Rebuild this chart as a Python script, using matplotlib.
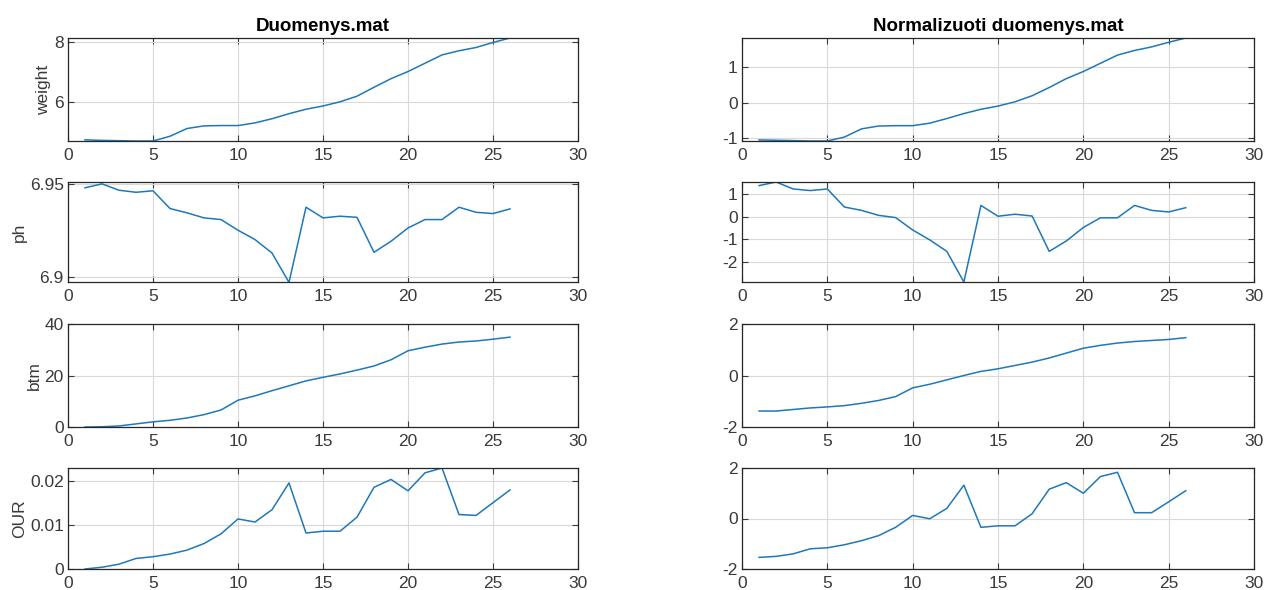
import matplotlib.pyplot as plt
from matplotlib.ticker import FormatStrFormatter

plt.rcParams['font.family'] = ['Liberation Sans', 'DejaVu Sans']
plt.rcParams['axes.unicode_minus'] = False

day = list(range(1, 27))

# Duomenys.mat
weight = [4.72, 4.70, 4.69, 4.68, 4.68, 4.84, 5.10, 5.19, 5.20, 5.20, 5.29, 5.43, 5.60,
          5.75, 5.86, 6.00, 6.19, 6.49, 6.78, 7.02, 7.30, 7.58, 7.72, 7.83, 8.00, 8.15]
ph = [6.9479, 6.9500, 6.9466, 6.9455, 6.9463, 6.9368, 6.9345, 6.9318, 6.9309, 6.9252,
      6.9202, 6.9130, 6.8973, 6.9375, 6.9318, 6.9327, 6.9321, 6.9134, 6.9193, 6.9264,
      6.9309, 6.9309, 6.9375, 6.9348, 6.9341, 6.9366]
btm = [0.0, 0.1, 0.4, 1.2, 2.0, 2.6, 3.5, 4.8, 6.6, 10.4, 12.1, 14.1, 16.0,
       17.9, 19.3, 20.6, 22.1, 23.7, 26.1, 29.6, 31.0, 32.2, 33.0, 33.4, 34.1, 34.9]
our = [0.0000, 0.0004, 0.0011, 0.0024, 0.0028, 0.0034, 0.0043, 0.0058, 0.0080, 0.0114,
       0.0107, 0.0135, 0.0196, 0.0082, 0.0086, 0.0086, 0.0118, 0.0186, 0.0204, 0.0178,
       0.0219, 0.0230, 0.0124, 0.0122, 0.0151, 0.0180]

# Normalizuoti duomenys.mat
weight_n = [-1.05, -1.06, -1.07, -1.08, -1.08, -0.97, -0.74, -0.66, -0.65, -0.65, -0.58,
            -0.45, -0.31, -0.19, -0.10, 0.02, 0.19, 0.42, 0.67, 0.87, 1.10, 1.33, 1.46,
            1.56, 1.69, 1.81]
ph_n = [1.39, 1.55, 1.24, 1.17, 1.24, 0.44, 0.29, 0.07, -0.03, -0.58, -1.02, -1.53, -2.89,
        0.51, 0.03, 0.12, 0.04, -1.53, -1.07, -0.47, -0.04, -0.04, 0.51, 0.29, 0.22, 0.41]
btm_n = [-1.38, -1.38, -1.32, -1.26, -1.22, -1.17, -1.08, -0.97, -0.82, -0.48, -0.34,
         -0.17, 0.00, 0.16, 0.26, 0.39, 0.52, 0.68, 0.87, 1.06, 1.17, 1.26, 1.32, 1.36,
         1.40, 1.47]
our_n = [-1.54, -1.50, -1.40, -1.20, -1.16, -1.04, -0.88, -0.68, -0.35, 0.12, -0.01, 0.40,
         1.32, -0.35, -0.29, -0.29, 0.19, 1.16, 1.42, 1.00, 1.66, 1.83, 0.23, 0.23, 0.66, 1.10]

left_data = [
    ('weight', weight, (4.68, 8.15), [6, 8]),
    ('ph', ph, (6.8975, 6.9510), [6.9, 6.95]),
    ('btm', btm, (0, 40), [0, 20, 40]),
    ('OUR', our, (0, 0.0230), [0, 0.01, 0.02]),
]
right_data = [
    (weight_n, (-1.08, 1.81), [-1, 0, 1]),
    (ph_n, (-2.89, 1.55), [-2, -1, 0, 1]),
    (btm_n, (-2, 2), [-2, 0, 2]),
    (our_n, (-2, 2), [-2, 0, 2]),
]

W, H = 1267, 590
fig = plt.figure(figsize=(W / 100, H / 100), dpi=100)
rows_px = [(38, 141), (182, 282), (324, 427), (468, 569)]
cols_px = [(68, 578), (742, 1254)]

line_color = '#1f78b8'
tick_color = '#3a3a3a'


def style(ax, ylim, yticks):
    ax.set_xlim(0, 30)
    ax.set_xticks(range(0, 31, 5))
    ax.set_ylim(*ylim)
    ax.set_yticks(yticks)
    ax.yaxis.set_major_formatter(FormatStrFormatter('%g'))
    ax.grid(True, color='#d9d9d9', linewidth=0.8)
    ax.set_axisbelow(True)
    ax.tick_params(direction='in', length=4, width=0.8, top=True, right=True,
                   labelsize=12.5, colors=tick_color)
    ax.tick_params(axis='x', pad=5)
    ax.tick_params(axis='y', pad=3)
    for s in ax.spines.values():
        s.set_color('#262626')
        s.set_linewidth(0.9)


for i, (top, bot) in enumerate(rows_px):
    for j, (l, r) in enumerate(cols_px):
        ax = fig.add_axes([l / W, 1 - bot / H, (r - l) / W, (bot - top) / H])
        if j == 0:
            name, vals, ylim, yticks = left_data[i]
            ax.plot(day, vals, color=line_color, linewidth=1.1)
            style(ax, ylim, yticks)
            ax.set_ylabel(name, fontsize=12.5, color=tick_color, labelpad=2)
            if i == 0:
                ax.set_title('Duomenys.mat', fontsize=13.5, fontweight='bold', pad=5)
        else:
            vals, ylim, yticks = right_data[i]
            ax.plot(day, vals, color=line_color, linewidth=1.1)
            style(ax, ylim, yticks)
            if i == 0:
                ax.set_title('Normalizuoti duomenys.mat', fontsize=13.5,
                             fontweight='bold', pad=5)

fig.savefig('out.png', dpi=100, facecolor='white')
